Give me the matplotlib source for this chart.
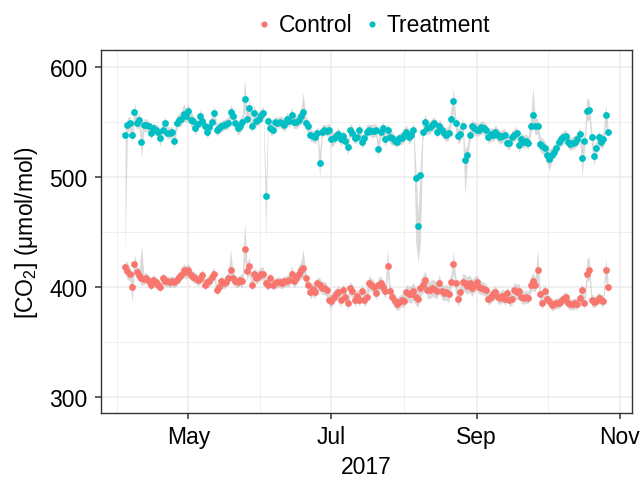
import numpy as np
import pandas as pd
import matplotlib
matplotlib.use("Agg")
import matplotlib.pyplot as plt
import matplotlib.dates as mdates

plt.rcParams['font.family'] = ['Liberation Sans', 'DejaVu Sans']
plt.rcParams['mathtext.fontset'] = 'custom'
plt.rcParams['mathtext.rm'] = 'Liberation Sans'
plt.rcParams['mathtext.default'] = 'regular'

# daily values, 2017-04-04 .. 2017-10-27
start_date = '2017-04-04'

treatment = [
    538, 547, 549, 538, 559, 549, 552, 532, 547, 547,
    546, 540, 544, 543, 541, 535, 543, 549, 540, 540,
    541, 533, 549, 552, 553, 557, 555, 560, 552, 551,
    544, 548, 555, 551, 546, 541, 545, 550, 558, 543,
    544, 546, 547, 548, 549, 559, 555, 549, 544, 546,
    550, 571, 553, 563, 546, 558, 551, 553, 556, 558,
    483, 551, 544, 543, 550, 549, 550, 549, 547, 553,
    551, 556, 550, 550, 552, 555, 559, 549, 546, 538,
    537, 536, 540, 513, 541, 543, 542, 543, 534, 535,
    537, 539, 534, 537, 533, 527, 543, 540, 535, 536,
    543, 532, 535, 541, 543, 542, 542, 543, 525, 541,
    544, 534, 543, 536, 535, 533, 532, 535, 535, 538,
    541, 536, 538, 543, 499, 455, 502, 541, 550, 544,
    545, 547, 549, 541, 546, 543, 540, 538, 540, 553,
    569, 549, 537, 539, 546, 515, 520, 538, 546, 544,
    543, 543, 545, 544, 543, 536, 539, 538, 541, 538,
    536, 537, 538, 531, 531, 536, 538, 540, 529, 534,
    532, 533, 531, 546, 556, 546, 546, 530, 528, 526,
    520, 516, 520, 523, 526, 532, 534, 536, 537, 532,
    530, 531, 532, 534, 539, 517, 533, 560, 561, 536,
    519, 526, 536, 532, 534, 556, 541,
]

control = [
    418, 414, 412, 400, 421, 413, 411, 408, 407, 408,
    405, 402, 406, 404, 402, 400, 408, 405, 405, 404,
    405, 404, 406, 409, 411, 415, 413, 415, 411, 409,
    408, 406, 407, 411, 402, 404, 405, 409, 412, 397,
    400, 405, 403, 404, 408, 415, 408, 405, 404, 406,
    405, 434, 414, 419, 402, 412, 408, 410, 412, 412,
    403, 402, 408, 402, 403, 404, 404, 403, 405, 405,
    406, 412, 405, 408, 412, 415, 417, 408, 402, 395,
    398, 395, 403, 402, 399, 399, 397, 388, 387, 391,
    393, 395, 388, 397, 391, 385, 399, 396, 388, 392,
    388, 396, 388, 391, 403, 402, 400, 394, 402, 403,
    400, 396, 419, 396, 391, 387, 384, 386, 388, 387,
    395, 393, 393, 396, 391, 389, 399, 402, 406, 397,
    397, 399, 398, 396, 403, 396, 394, 395, 393, 404,
    421, 403, 389, 395, 404, 403, 401, 403, 399, 402,
    404, 400, 399, 398, 397, 389, 391, 393, 395, 391,
    390, 392, 389, 394, 388, 389, 397, 395, 396, 391,
    390, 391, 390, 402, 405, 402, 415, 393, 385, 396,
    389, 387, 383, 384, 385, 385, 387, 389, 391, 385,
    384, 384, 385, 384, 390, 397, 385, 412, 415, 388,
    386, 387, 390, 388, 387, 415, 400,
]

# half-width of the grey band around each day
treatment_spread = [
    6, 7, 6, 6, 9, 6, 7, 8, 6, 6,
    5, 6, 5, 5, 6, 7, 5, 6, 6, 5,
    5, 7, 6, 6, 7, 6, 6, 7, 6, 6,
    6, 5, 6, 5, 5, 6, 5, 6, 7, 6,
    5, 5, 5, 5, 6, 7, 6, 6, 6, 6,
    7, 10, 7, 8, 6, 7, 6, 6, 6, 6,
    10, 6, 6, 5, 5, 5, 5, 6, 6, 6,
    6, 7, 6, 6, 6, 7, 8, 6, 6, 6,
    5, 6, 6, 10, 6, 5, 5, 6, 7, 6,
    5, 6, 6, 5, 6, 7, 6, 6, 5, 5,
    6, 6, 6, 6, 5, 6, 6, 6, 8, 6,
    6, 7, 6, 6, 6, 5, 5, 5, 6, 6,
    6, 6, 6, 6, 12, 12, 12, 8, 7, 6,
    6, 6, 6, 6, 6, 6, 6, 6, 7, 8,
    10, 7, 7, 7, 8, 10, 9, 7, 6, 6,
    6, 6, 6, 6, 6, 6, 6, 6, 6, 6,
    6, 6, 6, 6, 6, 6, 6, 6, 7, 6,
    6, 6, 6, 8, 10, 8, 7, 7, 7, 7,
    8, 9, 7, 6, 6, 6, 6, 6, 6, 6,
    6, 6, 6, 6, 7, 10, 8, 9, 9, 8,
    8, 7, 6, 6, 7, 9, 7,
]

control_spread = [
    6, 8, 6, 8, 8, 6, 6, 7, 5, 5,
    5, 5, 5, 5, 5, 5, 5, 5, 5, 5,
    5, 5, 5, 5, 5, 6, 6, 6, 5, 5,
    5, 5, 5, 5, 5, 5, 5, 6, 6, 5,
    5, 5, 5, 5, 6, 8, 6, 5, 5, 5,
    7, 10, 8, 8, 6, 6, 6, 6, 6, 6,
    5, 5, 5, 5, 5, 5, 5, 5, 5, 5,
    6, 7, 6, 6, 7, 8, 9, 6, 6, 6,
    6, 6, 6, 6, 6, 6, 6, 6, 6, 6,
    6, 6, 7, 6, 6, 6, 6, 6, 6, 6,
    6, 6, 6, 7, 7, 6, 6, 6, 6, 7,
    6, 7, 9, 7, 6, 6, 6, 6, 6, 6,
    7, 7, 8, 8, 8, 7, 8, 8, 9, 8,
    8, 8, 8, 7, 8, 7, 7, 7, 8, 8,
    9, 8, 7, 7, 8, 8, 8, 8, 8, 7,
    7, 7, 6, 6, 6, 6, 6, 6, 6, 6,
    6, 6, 6, 6, 6, 6, 7, 7, 7, 6,
    6, 6, 6, 7, 8, 7, 9, 7, 6, 6,
    5, 5, 5, 5, 5, 5, 5, 5, 5, 5,
    5, 5, 5, 5, 5, 6, 6, 8, 8, 6,
    5, 5, 5, 5, 6, 8, 7,
]

# days where the band reaches much further (day index: value)
treatment_low_peaks = {0: 430, 7: 517, 60: 443, 83: 499, 124: 440, 125: 422,
                       126: 440, 145: 483, 181: 506, 195: 501}
treatment_high_peaks = {4: 568, 25: 567, 51: 590, 76: 577, 140: 581,
                        174: 581, 197: 572, 205: 566}
control_low_peaks = {3: 386}
control_high_peaks = {4: 430, 7: 438, 45: 434, 51: 459, 76: 434, 112: 435,
                      140: 432, 176: 435, 197: 425, 198: 428, 205: 426}

dates = pd.date_range(start_date, periods=len(treatment), freq='D')


def band(vals, spread, lows, highs):
    v = np.array(vals, dtype=float)
    s = np.array(spread, dtype=float)
    lo = v - s
    hi = v + s
    for k, val in lows.items():
        lo[k] = val
    for k, val in highs.items():
        hi[k] = val
    return lo, hi


FS = 16.5

fig, ax = plt.subplots(figsize=(6.43, 4.81), dpi=100)
fig.subplots_adjust(left=0.157, right=0.983, top=0.893, bottom=0.139)

ctrl_col = '#F8766D'
trt_col = '#00BFC4'

lo, hi = band(control, control_spread, control_low_peaks, control_high_peaks)
ax.fill_between(dates, lo, hi, color='#bdbdbd', alpha=0.55, lw=0, zorder=2)
lo, hi = band(treatment, treatment_spread, treatment_low_peaks, treatment_high_peaks)
ax.fill_between(dates, lo, hi, color='#bdbdbd', alpha=0.55, lw=0, zorder=2)

ax.scatter(dates, control, s=24, color=ctrl_col, lw=0, zorder=3, label='Control')
ax.scatter(dates, treatment, s=24, color=trt_col, lw=0, zorder=3, label='Treatment')

# axes limits like ggplot (5% expansion)
span = dates[-1] - dates[0]
ax.set_xlim(dates[0] - span * 0.05, dates[-1] + span * 0.05)
ax.set_ylim(285, 615)

ax.set_yticks([300, 400, 500, 600])
ax.set_yticks([350, 450, 550], minor=True)
ax.xaxis.set_major_locator(mdates.MonthLocator(bymonth=[5, 7, 9, 11]))
ax.xaxis.set_major_formatter(mdates.DateFormatter('%b'))
major = pd.to_datetime(['2017-03-01', '2017-05-01', '2017-07-01', '2017-09-01', '2017-11-01'])
minor = [major[i] + (major[i + 1] - major[i]) / 2 for i in range(len(major) - 1)]
ax.set_xticks(minor, minor=True)

ax.grid(which='major', color='#EBEBEB', lw=1.1, zorder=0)
ax.grid(which='minor', color='#EBEBEB', lw=0.55, zorder=0)
ax.set_axisbelow(True)
for sp in ax.spines.values():
    sp.set_color('#333333')
    sp.set_linewidth(1.0)
ax.tick_params(which='major', length=4.5, width=1.1, color='#333333',
               labelsize=FS, labelcolor='black')
ax.tick_params(axis='y', which='major', pad=5)
ax.tick_params(axis='x', which='major', pad=4)
ax.tick_params(which='minor', length=0)

ax.set_xlabel('2017', fontsize=FS, labelpad=5)
ax.set_ylabel('[CO$_2$] (μmol/mol)', fontsize=FS, labelpad=7)

fig.legend(loc='center', bbox_to_anchor=(373 / 643, 1 - 25 / 481), ncol=2, frameon=False,
           fontsize=FS, handlelength=0.7, handletextpad=0.3, columnspacing=0.5,
           markerscale=0.9)

plt.savefig('out.png', dpi=100)
